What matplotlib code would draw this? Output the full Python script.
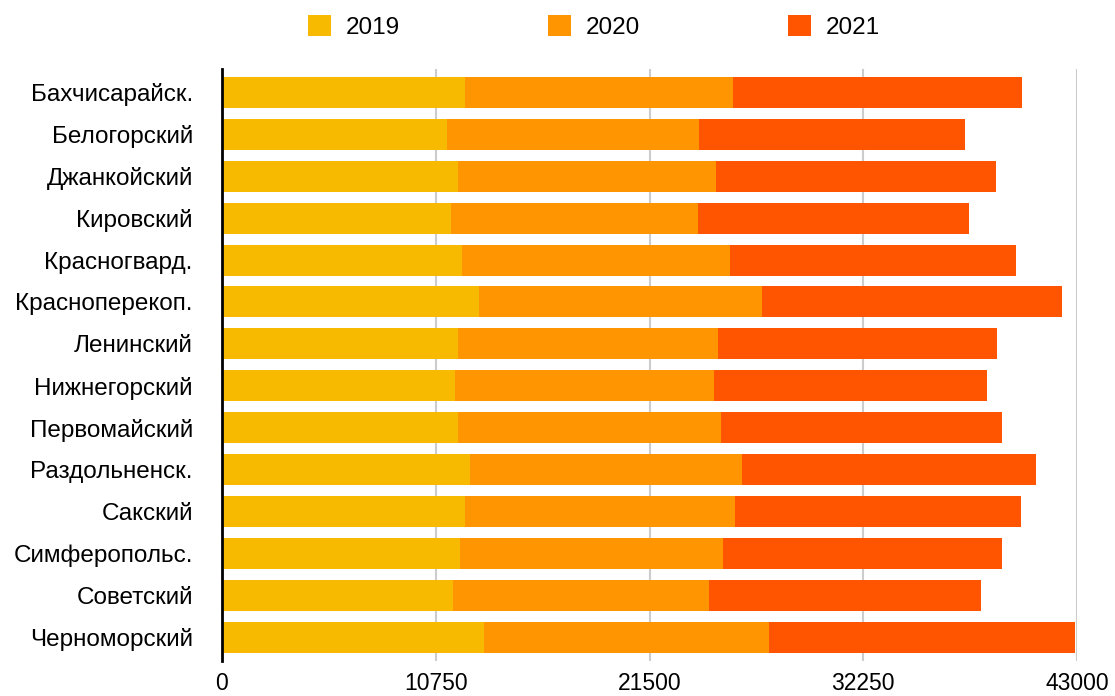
import matplotlib
matplotlib.use("Agg")
import matplotlib.pyplot as plt
from matplotlib.patches import Patch

plt.rcParams['font.family'] = ['Liberation Sans', 'DejaVu Sans']

categories = ["Бахчисарайск.", "Белогорский", "Джанкойский", "Кировский",
              "Красногвард.", "Красноперекоп.", "Ленинский", "Нижнегорский",
              "Первомайский", "Раздольненск.", "Сакский", "Симферопольс.",
              "Советский", "Черноморский"]
series_names = ["2019", "2020", "2021"]
v2019 = [12220, 11320, 11870, 11520, 12070, 12920, 11870, 11720, 11870, 12470, 12220, 11970, 11620, 13180]
v2020 = [13480, 12670, 12970, 12420, 13480, 14230, 13070, 13020, 13230, 13680, 13580, 13230, 12870, 14330]
v2021 = [14530, 13380, 14080, 13630, 14380, 15090, 14030, 13730, 14130, 14790, 14380, 14030, 13680, 15390]
xticks = [0, 10750, 21500, 32250, 43000]
colors = ["#F7BA00", "#FF9500", "#FF5500"]

fig = plt.figure(figsize=(11.15, 6.96), dpi=100)
ax = fig.add_axes([222/1115, 1-661/696, (1077-222)/1115, (661-69)/696])

y = list(range(len(categories)))
left = [0]*len(categories)
for vals, c, name in zip([v2019, v2020, v2021], colors, series_names):
    ax.barh(y, vals, left=left, height=0.74, color=c, label=name, zorder=3)
    left = [a+b for a, b in zip(left, vals)]

ax.set_xlim(0, 43000)
ax.set_ylim(13.57, -0.56)
ax.set_xticks(xticks)
ax.set_xticklabels([str(t) for t in xticks], fontsize=16.5)
ax.set_yticks(y)
ax.set_yticklabels(categories, fontsize=17.5)
ax.tick_params(axis='both', length=0)
ax.tick_params(axis='y', pad=21)
ax.tick_params(axis='x', pad=8)
ax.xaxis.grid(True, color="#CCCCCC", linewidth=1.5, zorder=0)
ax.yaxis.grid(False)
for s in ['top', 'right', 'bottom']:
    ax.spines[s].set_visible(False)
ax.spines['left'].set_color('black')
ax.spines['left'].set_linewidth(2)
ax.spines['left'].set_zorder(5)

handles = [Patch(facecolor=c, edgecolor='none') for c in colors]
fig.legend(handles, series_names, loc='center', bbox_to_anchor=(594/1115, 1-27/696),
           ncol=3, frameon=False, fontsize=17.5, handlelength=0.95, handleheight=0.95,
           handletextpad=0.6, columnspacing=6.1, borderaxespad=0)

fig.savefig("out.png", dpi=100, facecolor='white')
